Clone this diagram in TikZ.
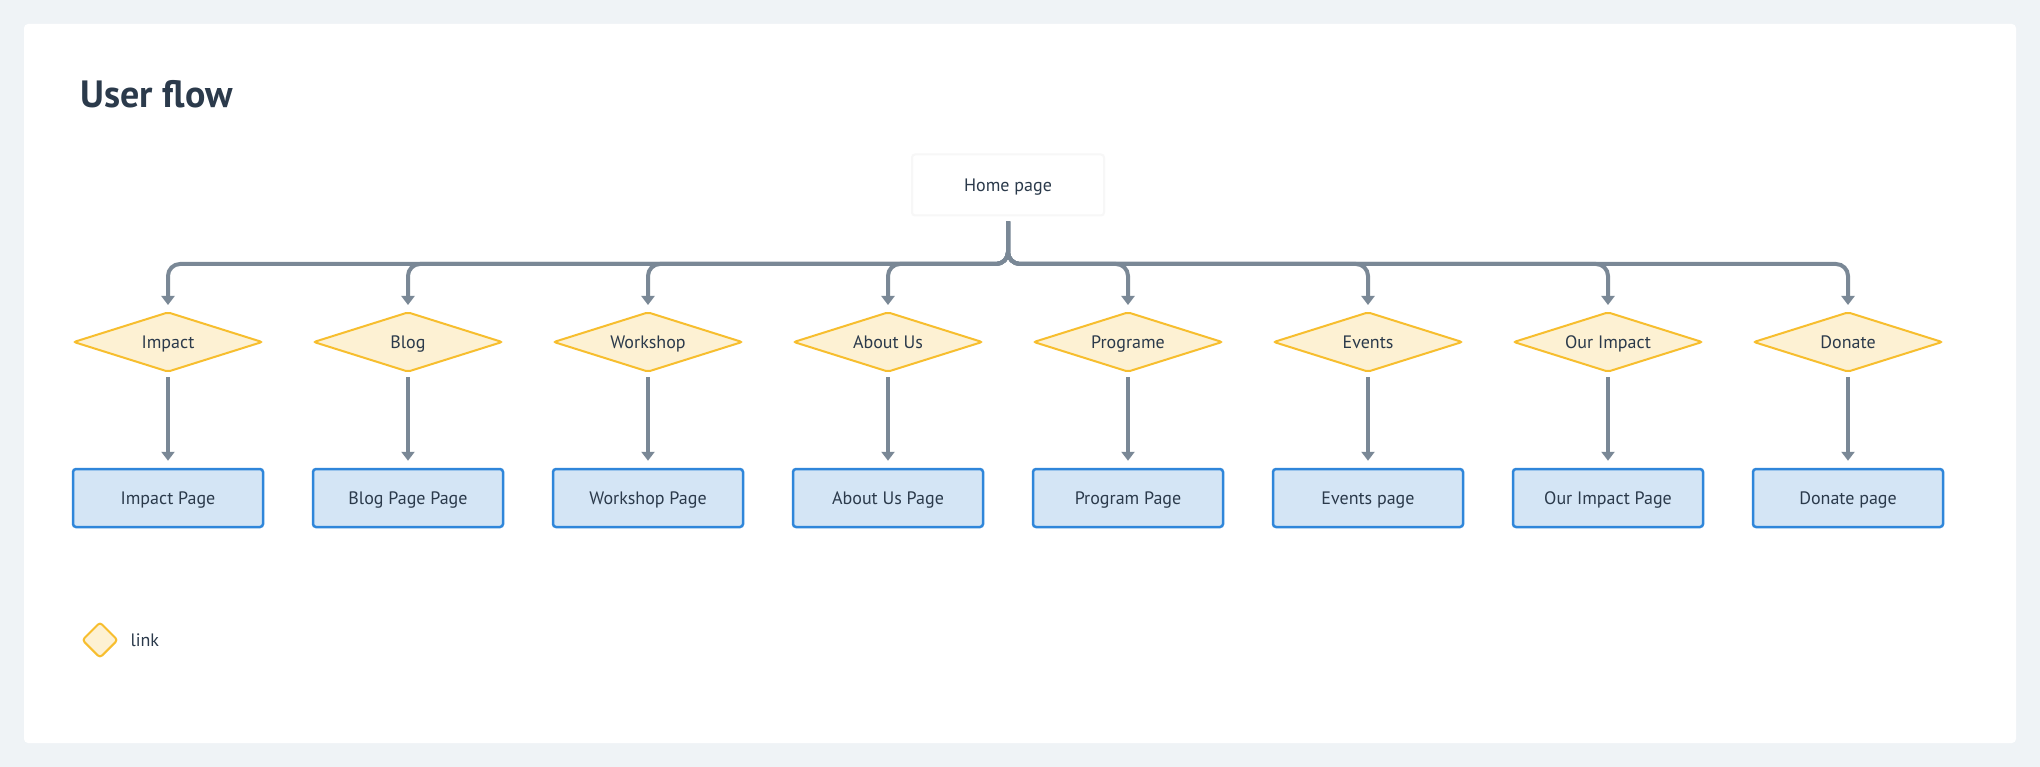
\documentclass[tikz,border=0pt]{standalone}
\usepackage{fontspec}
\setmainfont{PT Sans}
\usetikzlibrary{shapes.geometric,arrows.meta}
\definecolor{pagebg}{HTML}{EFF3F6}
\definecolor{ink}{HTML}{2B3A4B}
\definecolor{wire}{HTML}{7A8896}
\definecolor{linkfill}{HTML}{FDF1D3}
\definecolor{linkline}{HTML}{F7BE2E}
\definecolor{pagefill}{HTML}{D4E5F5}
\definecolor{pageline}{HTML}{2F86DA}
\tikzstyle{home}=[rectangle,fill=white,draw=black!3,line width=2pt,rounded corners=3pt,minimum width=192pt,minimum height=61pt,text=ink,text height=12.6pt,text depth=0pt,font=\fontsize{18}{21}\selectfont]
\tikzstyle{link}=[diamond,aspect=3.15,fill=linkfill,draw=linkline,line width=2pt,minimum width=189pt,minimum height=60pt,inner sep=0pt,rounded corners=2pt,text=ink,text height=12.6pt,text depth=0pt,font=\fontsize{18}{21}\selectfont]
\tikzstyle{page}=[rectangle,fill=pagefill,draw=pageline,line width=2.5pt,rounded corners=3pt,minimum width=190pt,minimum height=58pt,text=ink,text height=12.6pt,text depth=0pt,font=\fontsize{18}{21}\selectfont]
\tikzstyle{flow}=[draw=wire,line width=4pt,-{Triangle[width=13pt,length=9pt]}]

\begin{document}
\begin{tikzpicture}[x=1pt,y=1pt]
\fill[pagebg] (0,0) rectangle (2040,-767);
\fill[white,rounded corners=4pt] (24,-24) rectangle (2016,-743);
\node[anchor=base west,text=ink,font=\bfseries\fontsize{38}{42}\selectfont] (title) at (77,-108) {User flow};

\node[home] (home) at (1008,-185) {Home page};

\node[link] (l1) at (168,-342) {Impact};
\node[link] (l2) at (408,-342) {Blog};
\node[link] (l3) at (648,-342) {Workshop};
\node[link] (l4) at (888,-342) {About Us};
\node[link] (l5) at (1128,-342) {Programe};
\node[link] (l6) at (1368,-342) {Events};
\node[link] (l7) at (1608,-342) {Our Impact};
\node[link] (l8) at (1848,-342) {Donate};

\node[page] (p1) at (168,-498) {Impact Page};
\node[page] (p2) at (408,-498) {Blog Page Page};
\node[page] (p3) at (648,-498) {Workshop Page};
\node[page] (p4) at (888,-498) {About Us Page};
\node[page] (p5) at (1128,-498) {Program Page};
\node[page] (p6) at (1368,-498) {Events page};
\node[page] (p7) at (1608,-498) {Our Impact Page};
\node[page] (p8) at (1848,-498) {Donate page};

% home page out to every link
\draw[flow,rounded corners=12pt,shorten <=5pt,shorten >=6pt] (home.south) |- ([yshift=47pt]l1.north) -- (l1.north);
\draw[flow,rounded corners=12pt,shorten <=5pt,shorten >=6pt] (home.south) |- ([yshift=47pt]l2.north) -- (l2.north);
\draw[flow,rounded corners=12pt,shorten <=5pt,shorten >=6pt] (home.south) |- ([yshift=47pt]l3.north) -- (l3.north);
\draw[flow,rounded corners=12pt,shorten <=5pt,shorten >=6pt] (home.south) |- ([yshift=47pt]l4.north) -- (l4.north);
\draw[flow,rounded corners=12pt,shorten <=5pt,shorten >=6pt] (home.south) |- ([yshift=47pt]l5.north) -- (l5.north);
\draw[flow,rounded corners=12pt,shorten <=5pt,shorten >=6pt] (home.south) |- ([yshift=47pt]l6.north) -- (l6.north);
\draw[flow,rounded corners=12pt,shorten <=5pt,shorten >=6pt] (home.south) |- ([yshift=47pt]l7.north) -- (l7.north);
\draw[flow,rounded corners=12pt,shorten <=5pt,shorten >=6pt] (home.south) |- ([yshift=47pt]l8.north) -- (l8.north);

% each link to its page
\draw[flow,shorten <=4pt,shorten >=7pt] (l1) -- (p1);
\draw[flow,shorten <=4pt,shorten >=7pt] (l2) -- (p2);
\draw[flow,shorten <=4pt,shorten >=7pt] (l3) -- (p3);
\draw[flow,shorten <=4pt,shorten >=7pt] (l4) -- (p4);
\draw[flow,shorten <=4pt,shorten >=7pt] (l5) -- (p5);
\draw[flow,shorten <=4pt,shorten >=7pt] (l6) -- (p6);
\draw[flow,shorten <=4pt,shorten >=7pt] (l7) -- (p7);
\draw[flow,shorten <=4pt,shorten >=7pt] (l8) -- (p8);

% legend
\node[diamond,aspect=1,fill=linkfill,draw=linkline,line width=2pt,minimum size=36pt,inner sep=0pt,rounded corners=3pt] (key) at (100,-640) {};
\node[anchor=base west,text=ink,font=\fontsize{18}{21}\selectfont] (keytext) at (127,-646) {link};
\end{tikzpicture}
\end{document}
